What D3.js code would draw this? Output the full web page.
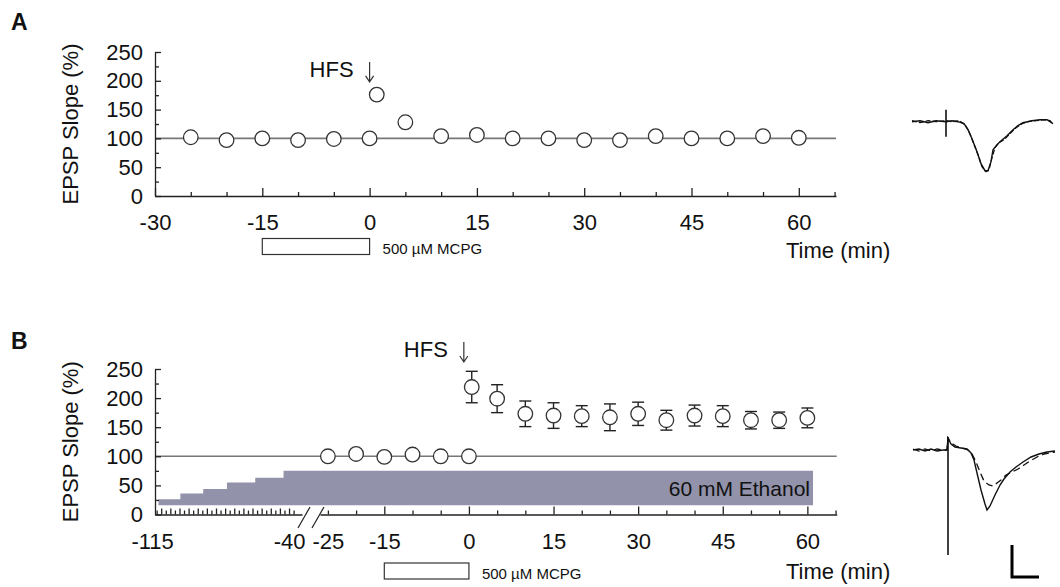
<!DOCTYPE html>
<html>
<head>
<meta charset="utf-8">
<script src="https://cdn.jsdelivr.net/npm/d3@7/dist/d3.min.js"></script>
<style>
body { margin: 0; background: #fff; }
svg text { font-family: Arial, "Liberation Sans", sans-serif; fill: #111; }
</style>
</head>
<body>
<svg id="fig" width="1060" height="587"></svg>
<script>
// panel A: MCPG alone
var timeA = [-25, -20, -15, -10, -5, 0, 1, 5, 10, 15, 20, 25, 30, 35, 40, 45, 50, 55, 60];
var slopeA = [102, 97, 100, 97, 99, 100, 176, 128, 104, 106, 100, 100, 97, 97, 104, 100, 100, 104, 101];

// panel B: MCPG with ethanol ramp
var timeBBase = [-25, -20, -15, -10, -5, 0];
var slopeBBase = [100, 104, 99, 103, 100, 100];
var timeBPost = [0.5, 5, 10, 15, 20, 25, 30, 35, 40, 45, 50, 55, 60];
var slopeBPost = [219, 199, 173, 170, 169, 167, 173, 162, 170, 169, 162, 162, 166];
var semBPost = [27, 24, 22, 22, 18, 23, 20, 17, 18, 18, 15, 14, 17];

// ethanol wash-in steps (start time, bar height on the slope axis)
var ethanolStart = [-111.5, -99.5, -87, -74, -58.5, -43];
var ethanolLevel = [26, 36, 44, 55, 63, 75];
var ethanolEnd = 61;
var ethanolFloor = 16;

// ticks
var yTicks = [0, 50, 100, 150, 200, 250];
var yMinorTicks = [25, 75, 125, 175, 225];
var xMajorA = [-30, -15, 0, 15, 30, 45, 60];
var xMinorA = [-25, -20, -10, -5, 5, 10, 20, 25, 35, 40, 50, 55, 65];
var xLabelsBLeft = [-115, -40];
var xMinorBLeft = [-112.5, -110, -107.5, -105, -102.5, -100, -97.5, -95, -92.5, -90, -87.5, -85, -82.5, -80,
    -77.5, -75, -72.5, -70, -67.5, -65, -62.5, -60, -57.5, -55, -52.5, -50, -47.5, -45, -42.5, -40, -37.5];
var xMajorBRight = [-15, 0, 15, 30, 45, 60];
var xMinorBRight = [-25, -20, -10, -5, 5, 10, 20, 25, 35, 40, 50, 55, 65];
var xLabelsBRight = [-25, -15, 0, 15, 30, 45, 60];
var mcpgWindow = [-15, 0];

// example sweeps (t in samples, v relative to baseline)
var traceA1 = [[0,0],[8,1],[16,-1],[24,1],[34,0],[40,1],[46,0],[52,-2],[56,-8],[60,-17],[65,-30],[69,-42],[73,-49],[76,-49],[79,-40],[81,-28],[85,-23],[88,-20],[95,-14],[101,-8],[106,-4],[111,-1],[120,1],[128,2],[135,2],[141,-2]];
var traceA2 = [[0,1],[8,-1],[16,1],[24,0],[34,1],[40,0],[47,1],[53,-3],[57,-10],[61,-20],[66,-33],[70,-45],[74,-50],[77,-48],[80,-36],[83,-26],[87,-21],[92,-18],[98,-12],[104,-6],[110,-2],[116,0],[124,1],[132,2],[138,1],[141,-3]];
var artifactA = [[34,12],[34,-15]];
var traceB1 = [[0,0],[6,1],[12,-1],[18,1],[24,-1],[30,0],[34,0],[35,12],[38,6],[42,3],[48,2],[54,1],[58,-3],[61,-10],[64,-23],[68,-40],[72,-54],[74,-60],[77,-56],[82,-45],[87,-35],[91,-29],[97,-22],[103,-17],[110,-12],[118,-7],[126,-4],[134,-2],[142,-1]];
var traceB2 = [[0,1],[6,-1],[12,1],[18,-1],[24,1],[30,0],[34,0],[35,12],[38,7],[43,4],[49,2],[55,0],[59,-4],[63,-12],[67,-22],[71,-31],[76,-35],[80,-36],[84,-33],[88,-30],[93,-25],[99,-22],[105,-19],[111,-15],[117,-11],[124,-7],[131,-4],[137,-3],[142,-2]];
var artifactB = [[35,13],[35,-105]];
var scaleBarB = [[99,-95],[99,-127],[126,-127]];

var svg = d3.select('#fig');
var INK = '#222';

class TimecoursePanel {
    constructor(svg, letter, letterY, yScale){
        this.svg = svg;
        this.letter = letter;
        this.letterY = letterY;
        this.y = yScale;
        this.baseY = yScale.range()[0];
        this.fontSize = 22;
        this.group = svg.append('g').attr('id', 'panel' + letter);
    }

    // strip d3's default axis fonts so the css font applies
    StyleAxis(g){
        g.attr('font-family', null).attr('font-size', null);
        g.selectAll('path, line').attr('stroke', INK).attr('stroke-width', 1.3);
        g.selectAll('text').attr('font-size', this.fontSize).attr('fill', '#111');
    }

    DrawLetter(){
        this.group.append('text')
            .attr('x', 11)
            .attr('y', this.letterY)
            .attr('font-size', 23)
            .attr('font-weight', 'bold')
            .text(this.letter);
    }

    DrawYAxis(xPos){
        var minor = this.group.append('g').attr('transform', 'translate(' + xPos + ',0)')
            .call(d3.axisLeft(this.y).tickValues(yMinorTicks).tickSizeInner(-4).tickSizeOuter(0).tickFormat(''));
        this.StyleAxis(minor);
        var major = this.group.append('g').attr('transform', 'translate(' + xPos + ',0)')
            .call(d3.axisLeft(this.y).tickValues(yTicks).tickSizeInner(-6).tickSizeOuter(0).tickPadding(12)
                .tickFormat(function(d){ return String(d); }));
        major.select('.domain').remove();
        this.StyleAxis(major);

        var mid = (this.y.range()[0] + this.y.range()[1]) / 2;
        this.group.append('text')
            .attr('transform', 'translate(78,' + mid + ') rotate(-90)')
            .attr('text-anchor', 'middle')
            .attr('font-size', this.fontSize)
            .text('EPSP Slope (%)');
    }

    // one horizontal axis segment: domain line + minor, major ticks, labels
    DrawXSegment(x, minorTicks, majorTicks, labels, padding){
        var self = this;
        var base = this.group.append('g').attr('transform', 'translate(0,' + this.baseY + ')');
        var g1 = base.append('g').call(d3.axisBottom(x).tickValues(minorTicks).tickSizeInner(-4).tickSizeOuter(0).tickFormat(''));
        self.StyleAxis(g1);
        if(majorTicks.length){
            var g2 = base.append('g').call(d3.axisBottom(x).tickValues(majorTicks).tickSizeInner(-8).tickSizeOuter(0).tickFormat(''));
            g2.select('.domain').remove();
            self.StyleAxis(g2);
        }
        // plain hyphen minus signs, as in the original figure
        var g3 = base.append('g').call(d3.axisBottom(x).tickValues(labels).tickSize(0).tickPadding(padding)
            .tickFormat(function(d){ return String(d); }));
        g3.select('.domain').remove();
        g3.selectAll('line').remove();
        self.StyleAxis(g3);
    }

    DrawReference(x0, x1){
        this.group.append('line')
            .attr('x1', x0).attr('x2', x1)
            .attr('y1', this.y(100)).attr('y2', this.y(100))
            .attr('stroke', '#777')
            .attr('stroke-width', 1.6);
    }

    DrawErrorBars(x, times, values, sems){
        var self = this;
        var bars = this.group.append('g').selectAll('g')
            .data(times.map(function(t, i){ return {t: t, v: values[i], e: sems[i]}; }))
            .enter().append('g');
        bars.append('line')
            .attr('x1', function(d){ return x(d.t); })
            .attr('x2', function(d){ return x(d.t); })
            .attr('y1', function(d){ return self.y(d.v + d.e); })
            .attr('y2', function(d){ return self.y(d.v - d.e); });
        [1, -1].forEach(function(sign){
            bars.append('line')
                .attr('x1', function(d){ return x(d.t) - 6; })
                .attr('x2', function(d){ return x(d.t) + 6; })
                .attr('y1', function(d){ return self.y(d.v + sign * d.e); })
                .attr('y2', function(d){ return self.y(d.v + sign * d.e); });
        });
        bars.selectAll('line').attr('stroke', INK).attr('stroke-width', 1.4);
    }

    DrawPoints(x, times, values){
        var self = this;
        this.group.append('g').selectAll('circle')
            .data(times.map(function(t, i){ return {t: t, v: values[i]}; }))
            .enter().append('circle')
            .attr('cx', function(d){ return x(d.t); })
            .attr('cy', function(d){ return self.y(d.v); })
            .attr('r', 7.3)
            .attr('fill', '#fff')
            .attr('stroke', '#333')
            .attr('stroke-width', 1.3);
    }

    DrawHFS(xPos, tipValue){
        var tip = this.y(tipValue);
        var g = this.group.append('g');
        g.append('text')
            .attr('x', xPos - 16).attr('y', tip - 5)
            .attr('text-anchor', 'end')
            .attr('font-size', this.fontSize)
            .text('HFS');
        g.append('path')
            .attr('d', 'M' + xPos + ',' + (tip - 20) + 'V' + tip +
                'M' + (xPos - 4) + ',' + (tip - 6) + 'L' + xPos + ',' + tip + 'L' + (xPos + 4) + ',' + (tip - 6))
            .attr('fill', 'none')
            .attr('stroke', '#333')
            .attr('stroke-width', 1.2);
    }

    DrawMCPG(x, top){
        this.group.append('rect')
            .attr('x', x(mcpgWindow[0]))
            .attr('y', top)
            .attr('width', x(mcpgWindow[1]) - x(mcpgWindow[0]))
            .attr('height', 16)
            .attr('fill', '#fff')
            .attr('stroke', '#333')
            .attr('stroke-width', 1.2);
        this.group.append('text')
            .attr('x', x(mcpgWindow[1]) + 13)
            .attr('y', top + 15.5)
            .attr('font-size', 15)
            .text('500 \u00b5M MCPG');
    }

    DrawTimeLabel(yPos){
        this.group.append('text')
            .attr('x', 786).attr('y', yPos)
            .attr('font-size', this.fontSize)
            .text('Time (min)');
    }
}

// sweep insets
function DrawSweeps(box, traces, artifact, scaleBar){
    var tx = d3.scaleLinear().domain([0, box.tMax]).range([box.x0, box.x0 + box.tMax]);
    var vy = d3.scaleLinear().domain([0, -100]).range([box.base, box.base + 100]);
    var line = d3.line().x(function(d){ return tx(d[0]); }).y(function(d){ return vy(d[1]); }).curve(d3.curveLinear);
    var g = svg.append('g');
    traces.forEach(function(tr, i){
        g.append('path')
            .attr('d', line(tr))
            .attr('fill', 'none')
            .attr('stroke', '#111')
            .attr('stroke-width', i === 0 ? 1.4 : 1.3)
            .attr('stroke-dasharray', i === 0 ? null : box.dash);
    });
    g.append('path').attr('d', line(artifact)).attr('stroke', '#111').attr('stroke-width', 1.6);
    if(scaleBar){
        g.append('path')
            .attr('d', line(scaleBar))
            .attr('fill', 'none')
            .attr('stroke', '#000')
            .attr('stroke-width', 3);
    }
}

// ---------- panel A ----------
var yA = d3.scaleLinear().domain([0, 250]).range([196, 52]);
var xA = d3.scaleLinear().domain([-30, 65.2]).range([155, 836]);
var panelA = new TimecoursePanel(svg, 'A', 30, yA);
panelA.DrawLetter();
panelA.DrawReference(xA.range()[0], xA.range()[1]);
panelA.DrawYAxis(155);
panelA.DrawXSegment(xA, xMinorA, xMajorA, xMajorA, 18);
panelA.DrawPoints(xA, timeA, slopeA);
panelA.DrawHFS(xA(0), 198);
panelA.DrawMCPG(xA, 238.5);
panelA.DrawTimeLabel(258);

// ---------- panel B ----------
var yB = d3.scaleLinear().domain([0, 250]).range([514.5, 369]);
var xBLeft = d3.scaleLinear().domain([-113.4, -32.9]).range([155, 302]);
var xBRight = d3.scaleLinear().domain([-26.4, 65.2]).range([320, 836.7]);
var panelB = new TimecoursePanel(svg, 'B', 349, yB);
panelB.DrawLetter();

// ethanol staircase, last step runs across the axis break
var ethPts = [];
ethanolStart.forEach(function(t, i){
    var x0 = xBLeft(t);
    var x1 = i < ethanolStart.length - 1 ? xBLeft(ethanolStart[i + 1]) : xBRight(ethanolEnd);
    ethPts.push([x0, yB(ethanolLevel[i])], [x1, yB(ethanolLevel[i])]);
});
ethPts.push([xBRight(ethanolEnd), yB(ethanolFloor)], [xBLeft(ethanolStart[0]), yB(ethanolFloor)]);
panelB.group.append('path')
    .attr('d', 'M' + ethPts.map(function(p){ return p.join(','); }).join('L') + 'Z')
    .attr('fill', '#9292aa');
panelB.group.append('text')
    .attr('x', xBRight(ethanolEnd) - 3)
    .attr('y', yB(ethanolFloor) - 9)
    .attr('text-anchor', 'end')
    .attr('font-size', 21)
    .text('60 mM Ethanol');

panelB.DrawReference(155, xBRight.range()[1]);
panelB.DrawYAxis(155);
panelB.DrawXSegment(xBLeft, xMinorBLeft.filter(function(t){ return t % 5 !== 0; }), [], xLabelsBLeft, 19);
// taller ticks on whole 5-min marks of the wash-in segment
var tallLeft = panelB.group.append('g').attr('transform', 'translate(0,' + yB(0) + ')')
    .call(d3.axisBottom(xBLeft).tickValues(xMinorBLeft.filter(function(t){ return t % 5 === 0; })).tickSizeInner(-6).tickSizeOuter(0).tickFormat(''));
tallLeft.select('.domain').remove();
panelB.StyleAxis(tallLeft);
panelB.DrawXSegment(xBRight, xMinorBRight, xMajorBRight, xLabelsBRight, 19);

// axis break marks
[xBLeft.range()[1] + 2, xBRight.range()[0] - 2].forEach(function(cx){
    panelB.group.append('line')
        .attr('x1', cx + 6).attr('y1', yB(0) - 7.5)
        .attr('x2', cx - 6).attr('y2', yB(0) + 13.5)
        .attr('stroke', INK).attr('stroke-width', 1.2);
});

panelB.DrawErrorBars(xBRight, timeBPost, slopeBPost, semBPost);
panelB.DrawPoints(xBRight, timeBBase, slopeBBase);
panelB.DrawPoints(xBRight, timeBPost, slopeBPost);
panelB.DrawHFS(xBRight(-0.9), 262);
panelB.DrawMCPG(xBRight, 563);
panelB.DrawTimeLabel(579);

// ---------- sweeps ----------
DrawSweeps({x0: 912, base: 121.7, tMax: 141, dash: '5,2'}, [traceA1, traceA2], artifactA, null);
DrawSweeps({x0: 913, base: 450, tMax: 142, dash: '7,4'}, [traceB1, traceB2], artifactB, scaleBarB);
</script>
</body>
</html>
